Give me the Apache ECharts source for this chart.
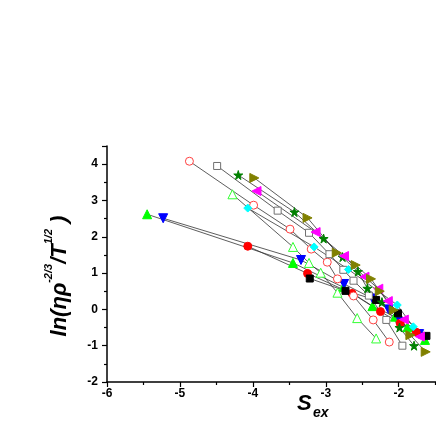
<!DOCTYPE html>
<html lang="en">
<head>
    <meta charset="UTF-8">
    <title>ln viscosity vs Sex</title>
    <script src="https://cdn.jsdelivr.net/npm/echarts@6/dist/echarts.min.js"></script>
    <style>
        html, body { margin: 0; padding: 0; overflow: hidden; background: #fff; }
    </style>
</head>
<body>
<!-- chart is a bit wider than the window, the right part is cut off like the reference -->
<div id="main" style="width: 480px;height:436px;"></div>

<script type="text/javascript">
    // [Sex, ln(eta rho^-2/3 / T^1/2)]
    var redOpen = [[-4.87, 4.08], [-3.99, 2.87], [-3.49, 2.21], [-3.20, 1.66], [-2.98, 1.30], [-2.84, 0.84], [-2.62, 0.37], [-2.35, -0.29], [-2.13, -0.90]];
    var grayOpen = [[-4.49, 3.95], [-3.66, 2.72], [-3.23, 2.11], [-2.95, 1.52], [-2.76, 1.09], [-2.62, 0.79], [-2.41, 0.38], [-2.17, -0.29], [-1.95, -1.00]];
    var greenStar = [[-4.20, 3.70], [-3.43, 2.68], [-3.03, 1.95], [-2.77, 1.44], [-2.56, 1.04], [-2.43, 0.58], [-2.23, 0.20], [-1.99, -0.50], [-1.79, -1.00]];
    var oliveRight = [[-3.98, 3.62], [-3.25, 2.52], [-2.85, 1.56], [-2.59, 1.22], [-2.38, 0.84], [-2.26, 0.50], [-2.07, -0.02], [-1.84, -0.71], [-1.63, -1.17]];
    var magentaLeft = [[-3.95, 3.26], [-3.14, 2.13], [-2.75, 1.47], [-2.47, 0.90], [-2.28, 0.57], [-2.15, 0.23], [-1.93, -0.28], [-1.71, -0.75]];
    var greenOpenTri = [[-4.28, 3.17], [-3.45, 1.72], [-3.23, 1.28], [-3.07, 1.01], [-2.84, 0.46], [-2.57, -0.24], [-2.31, -0.80]];
    var cyanDiamond = [[-4.07, 2.79], [-3.16, 1.72], [-2.69, 1.10], [-2.02, 0.12], [-1.80, -0.48]];
    var greenTri = [[-5.45, 2.62], [-3.45, 1.28], [-2.76, 0.61], [-2.36, 0.09], [-2.05, -0.20], [-1.88, -0.49], [-1.64, -0.84]];
    var blueDown = [[-5.23, 2.51], [-3.34, 1.36], [-2.75, 0.70], [-2.36, 0.30], [-2.14, 0.00], [-1.97, -0.35], [-1.72, -0.68]];
    var redFilled = [[-4.07, 1.74], [-3.25, 0.99], [-2.64, 0.44], [-2.25, -0.06], [-1.98, -0.38], [-1.76, -0.63]];
    var blackSquare = [[-3.22, 0.85], [-2.73, 0.51], [-2.31, 0.26], [-2.01, -0.11], [-1.62, -0.73]];

    var xTicks = [-6, -5, -4, -3, -2, -1];
    var yTicks = [-2, -1, 0, 1, 2, 3, 4];

    var star = 'path://M50,0 L61,35 L98,35 L68,57 L79,91 L50,70 L21,91 L32,57 L2,35 L39,35 Z';
    var font = '"Liberation Sans", Arial, sans-serif';

    function mk(data, symbol, size, rot, fill, stroke) {
        return {
            type: 'line',
            data: data,
            symbol: symbol,
            symbolSize: size,
            symbolRotate: rot,
            showAllSymbol: true,
            lineStyle: { color: '#333', width: 0.8 },
            itemStyle: { color: fill, borderColor: stroke, borderWidth: 1 },
            emphasis: { disabled: true },
            animation: false
        };
    }

    var myChart = echarts.init(document.getElementById('main'));

    var option = {
        animation: false,
        grid: { left: 107, top: 146, width: 373, height: 236 },
        xAxis: {
            type: 'value',
            min: xTicks[0],
            max: xTicks[xTicks.length - 1],
            interval: 1,
            splitLine: { show: false },
            axisLine: { onZero: false, lineStyle: { color: '#000', width: 1.5 } },
            axisTick: { length: 5, lineStyle: { color: '#000', width: 1.2 } },
            minorTick: { show: true, splitNumber: 2, length: 3, lineStyle: { color: '#000', width: 1.2 } },
            axisLabel: { margin: 6, color: '#000', fontWeight: 'bold', fontSize: 12, fontFamily: font }
        },
        yAxis: {
            type: 'value',
            min: yTicks[0],
            max: 4.5,
            interval: 1,
            splitLine: { show: false },
            axisLine: { onZero: false, lineStyle: { color: '#000', width: 1.5 } },
            axisTick: { length: 5, lineStyle: { color: '#000', width: 1.2 } },
            minorTick: { show: true, splitNumber: 2, length: 3, lineStyle: { color: '#000', width: 1.2 } },
            axisLabel: {
                margin: 9, color: '#000', fontWeight: 'bold', fontSize: 12, fontFamily: font,
                showMaxLabel: false,
                formatter: function (v) { return yTicks.indexOf(v) >= 0 ? String(v) : ''; }
            }
        },
        graphic: [
            {
                type: 'text', x: 57, y: 276, rotation: Math.PI / 2,
                style: {
                    text: '{b|ln(ηρ}{s|-2/3}{b|/T}{s|1/2}{b| )}',
                    align: 'center', verticalAlign: 'middle',
                    textAlign: 'center', textVerticalAlign: 'middle',
                    fill: '#000',
                    rich: {
                        b: { fontSize: 22, fontStyle: 'italic', fontWeight: 'bold', fontFamily: font, fill: '#000', color: '#000', lineHeight: 27, verticalAlign: 'bottom' },
                        s: { fontSize: 11, fontStyle: 'italic', fontWeight: 'bold', fontFamily: font, fill: '#000', color: '#000', lineHeight: 27, verticalAlign: 'top' }
                    }
                }
            },
            {
                type: 'text', x: 297, y: 404,
                style: { text: 'S', fill: '#000', font: 'italic bold 22px ' + font, align: 'left', verticalAlign: 'middle', textAlign: 'left', textVerticalAlign: 'middle' }
            },
            {
                type: 'text', x: 313, y: 413,
                style: { text: 'ex', fill: '#000', font: 'italic bold 14px ' + font, align: 'left', verticalAlign: 'middle', textAlign: 'left', textVerticalAlign: 'middle' }
            }
        ],
        series: [
            mk(greenTri, 'triangle', 9, 0, '#00ff00', '#00ff00'),
            mk(blueDown, 'triangle', 9, 180, '#0000ff', '#0000ff'),
            mk(redFilled, 'circle', 8, 0, '#ff0000', '#ff0000'),
            mk(blackSquare, 'rect', 7, 0, '#000', '#000'),
            mk(redOpen, 'circle', 8, 0, '#fff', '#ff4040'),
            mk(grayOpen, 'rect', 7, 0, '#fff', '#707070'),
            mk(greenOpenTri, 'triangle', 9, 0, '#fff', '#33ff33'),
            mk(cyanDiamond, 'diamond', 8, 0, '#00ffff', '#00ffff'),
            mk(greenStar, star, 9, 0, '#008000', '#008000'),
            mk(magentaLeft, 'triangle', 9, 90, '#ff00ff', '#ff00ff'),
            mk(oliveRight, 'triangle', 9, -90, '#808000', '#808000')
        ]
    };

    myChart.setOption(option);
</script>
</body>
</html>
